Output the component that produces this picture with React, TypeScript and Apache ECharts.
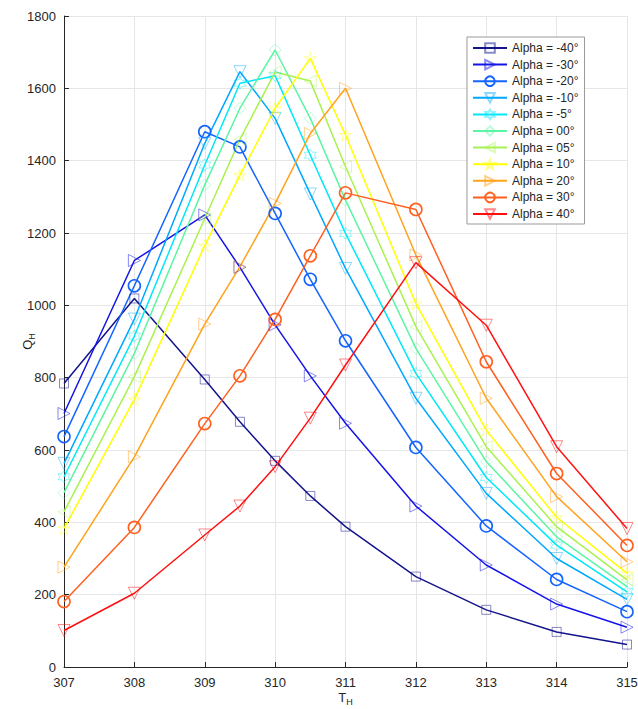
import React, { useEffect, useRef } from "react";
import * as echarts from "echarts";

const T = [307, 308, 309, 309.5, 310, 310.5, 311, 312, 313, 314, 315];

const alphaNames = [
  "Alpha = -40°", "Alpha = -30°", "Alpha = -20°", "Alpha = -10°", "Alpha = -5°",
  "Alpha = 00°", "Alpha = 05°", "Alpha = 10°", "Alpha = 20°", "Alpha = 30°", "Alpha = 40°",
];

const qM40 = [784, 1019, 795, 678, 570, 473, 388, 250, 158, 97, 62];
const qM30 = [701, 1124, 1250, 1105, 946, 805, 674, 445, 282, 174, 110];
const qM20 = [637, 1054, 1480, 1438, 1254, 1072, 902, 607, 390, 242, 153];
const qM10 = [563, 962, 1448, 1646, 1517, 1308, 1102, 743, 480, 300, 187];
const qM5 = [526, 915, 1388, 1614, 1635, 1415, 1199, 812, 524, 337, 208];
const q00 = [482, 867, 1333, 1545, 1706, 1517, 1291, 881, 568, 360, 222];
const q05 = [429, 803, 1240, 1459, 1645, 1620, 1383, 941, 609, 388, 241];
const q10 = [383, 740, 1165, 1360, 1545, 1683, 1471, 1005, 655, 414, 259];
const q20 = [276, 581, 948, 1107, 1282, 1475, 1600, 1139, 743, 471, 291];
const q30 = [181, 386, 673, 805, 961, 1137, 1311, 1265, 844, 535, 336];
const q40 = [101, 204, 365, 445, 554, 688, 835, 1118, 945, 609, 383];

const seriesValues = [qM40, qM30, qM20, qM10, qM5, q00, q05, q10, q20, q30, q40];

const lineColors = [
  "#14148c", "#1414e6", "#1464ff", "#00a8ff", "#00e8f8",
  "#5cf5a4", "#a8f250", "#ffff00", "#ffa21c", "#ff6020", "#ff1010",
];

function starPath(n: number, inner: number): string {
  const pts: string[] = [];
  for (let i = 0; i < n * 2; i++) {
    const r = i % 2 === 0 ? 50 : 50 * inner;
    const a = -Math.PI / 2 + (i * Math.PI) / n;
    pts.push(`${(50 + r * Math.cos(a)).toFixed(2)} ${(50 + r * Math.sin(a)).toFixed(2)}`);
  }
  return "path://M" + pts.join(" L") + " Z";
}

const PENTA = starPath(5, 0.382);
const HEXA = starPath(6, 0.577);

const symbols = ["rect", "triangle", "circle", "triangle", HEXA, "diamond", "triangle", PENTA, "triangle", "circle", "triangle"];
const rotations = [0, -90, 0, 180, 0, 0, 90, 0, -90, 0, 180];
const sizes = [9, 12, 12, 12, 12, 12, 12, 12, 12, 12, 12];
const markerAlpha = [0.5, 0.5, 1, 0.45, 0.45, 0.4, 0.4, 0.45, 0.5, 1, 0.5];
const markerWidth = [1, 1, 1.6, 1, 1, 1, 1, 1, 1, 1.6, 1];

function rgba(hex: string, a: number): string {
  const r = parseInt(hex.slice(1, 3), 16);
  const g = parseInt(hex.slice(3, 5), 16);
  const b = parseInt(hex.slice(5, 7), 16);
  return `rgba(${r},${g},${b},${a})`;
}

const FONT = "'Liberation Sans', Arial, Helvetica, sans-serif";
const AX = "#262626";

export default function App() {
  const ref = useRef<HTMLDivElement>(null);
  useEffect(() => {
    if (!ref.current) return;
    const chart = echarts.init(ref.current, undefined, { renderer: "svg" });
    const series = seriesValues.map((vals, k) => ({
      type: "line",
      name: alphaNames[k],
      data: T.map((t, i) => [t, vals[i]]),
      symbol: symbols[k],
      symbolSize: sizes[k],
      symbolRotate: rotations[k],
      showSymbol: true,
      lineStyle: { color: lineColors[k], width: 1.5 },
      itemStyle: {
        color: "rgba(255,255,255,0)",
        borderColor: rgba(lineColors[k], markerAlpha[k]),
        borderWidth: markerWidth[k],
      },
      emphasis: { disabled: true },
    }));
    chart.setOption({
      animation: false,
      backgroundColor: "#ffffff",
      textStyle: { fontFamily: FONT },
      grid: { left: 64, right: 11, top: 16, bottom: 42, containLabel: false, outerBoundsMode: "none" },
      legend: {
        data: alphaNames,
        orient: "vertical",
        left: 467,
        top: 37,
        padding: [5, 6, 4, 5],
        itemGap: 4.6,
        itemWidth: 34,
        itemHeight: 12,
        backgroundColor: "#ffffff",
        borderColor: "#9a9a9a",
        borderWidth: 1,
        borderRadius: 0,
        textStyle: { fontSize: 12, color: AX, fontFamily: FONT },
      },
      xAxis: {
        type: "value",
        min: 307,
        max: 315,
        interval: 1,
        name: "{a|T}{b|H}",
        nameLocation: "middle",
        nameGap: 22,
        nameMoveOverlap: false,
        nameTextStyle: {
          rich: {
            a: { fontSize: 13, color: AX, fontFamily: FONT },
            b: { fontSize: 9, color: AX, fontFamily: FONT, padding: [8, 0, 0, 0] },
          },
        },
        axisLine: { show: true, lineStyle: { color: AX, width: 1 } },
        axisTick: { show: true, inside: true, length: 5, lineStyle: { color: AX } },
        axisLabel: { fontSize: 13, color: AX, margin: 9, fontFamily: FONT, formatter: (v: number) => String(v) },
        splitLine: { show: true, lineStyle: { color: "#e6e6e6", width: 1 } },
      },
      yAxis: {
        type: "value",
        min: 0,
        max: 1800,
        interval: 200,
        name: "{a|Q}{b|H}",
        nameLocation: "middle",
        nameRotate: 90,
        nameGap: 28,
        nameMoveOverlap: false,
        nameTextStyle: {
          rich: {
            a: { fontSize: 13, color: AX, fontFamily: FONT },
            b: { fontSize: 9, color: AX, fontFamily: FONT, padding: [8, 0, 0, 0] },
          },
        },
        axisLine: { show: true, lineStyle: { color: AX, width: 1 } },
        axisTick: { show: true, inside: true, length: 5, lineStyle: { color: AX } },
        axisLabel: { fontSize: 13, color: AX, margin: 8, fontFamily: FONT, formatter: (v: number) => String(v) },
        splitLine: { show: true, lineStyle: { color: "#e6e6e6", width: 1 } },
      },
      series,
    });
    return () => chart.dispose();
  }, []);
  return (
    <div
      ref={ref}
      style={{ position: "fixed", left: 0, top: 0, width: 638, height: 709, background: "#fff" }}
    />
  );
}
